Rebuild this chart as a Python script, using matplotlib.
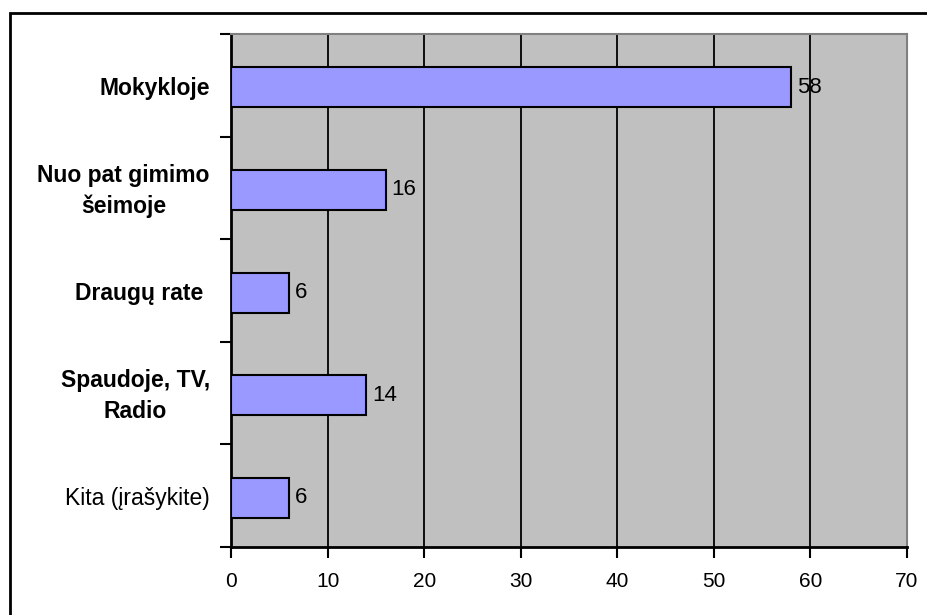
import matplotlib.pyplot as plt
from matplotlib.patches import Rectangle

categories = ["Mokykloje", "Nuo pat gimimo\nšeimoje", "Draugų rate ",
              "Spaudoje, TV,\nRadio", "Kita (įrašykite)"]
values = [58, 16, 6, 14, 6]
bold_label = [True, True, True, True, False]
xticks = [0, 10, 20, 30, 40, 50, 60, 70]

plt.rcParams['font.family'] = ['Liberation Sans', 'DejaVu Sans']

fig = plt.figure(figsize=(9.28, 6.15), dpi=100)
fig.patches.append(Rectangle((10 / 928, -0.05), 1.0, (615 - 13) / 615 + 0.05,
                             transform=fig.transFigure, fill=False,
                             edgecolor="black", linewidth=2))

ax = fig.add_axes([231 / 928, 68 / 615, 676 / 928, 513 / 615])
ax.set_facecolor("#C0C0C0")

ypos = list(range(len(categories)))
ax.barh([y + 0.02 for y in ypos], values, height=0.39, color="#9999FF",
        edgecolor="black", linewidth=1.5, zorder=3)
for y, v in zip(ypos, values):
    ax.text(v + 0.6, y + 0.02, str(v), va="center", ha="left", fontsize=16,
            zorder=4)

ax.set_xlim(0, 70)
ax.set_ylim(len(categories) - 0.5, -0.5)
ax.set_xticks(xticks)
ax.set_xticklabels([str(t) for t in xticks], fontsize=15)
ax.xaxis.grid(True, color="black", linewidth=1.3, zorder=1)
ax.set_axisbelow(True)

ax.set_yticks([i - 0.5 for i in range(len(categories) + 1)])
ax.set_yticklabels([])
ax.tick_params(axis="y", direction="out", length=8, width=1.5)
ax.tick_params(axis="x", direction="out", length=8, width=1.5, pad=10)

for y, lab, b in zip(ypos, categories, bold_label):
    ax.text(-2.2, y + 0.03, lab, ha="right", va="center",
            multialignment="center", linespacing=1.45,
            fontsize=16.5 if b else 16.5, fontweight="bold" if b else "normal")

for s in ["left", "bottom"]:
    ax.spines[s].set_linewidth(2)
    ax.spines[s].set_color("black")
for s in ["top", "right"]:
    ax.spines[s].set_linewidth(1.5)
    ax.spines[s].set_color("#808080")

fig.savefig("out.png", dpi=100)
